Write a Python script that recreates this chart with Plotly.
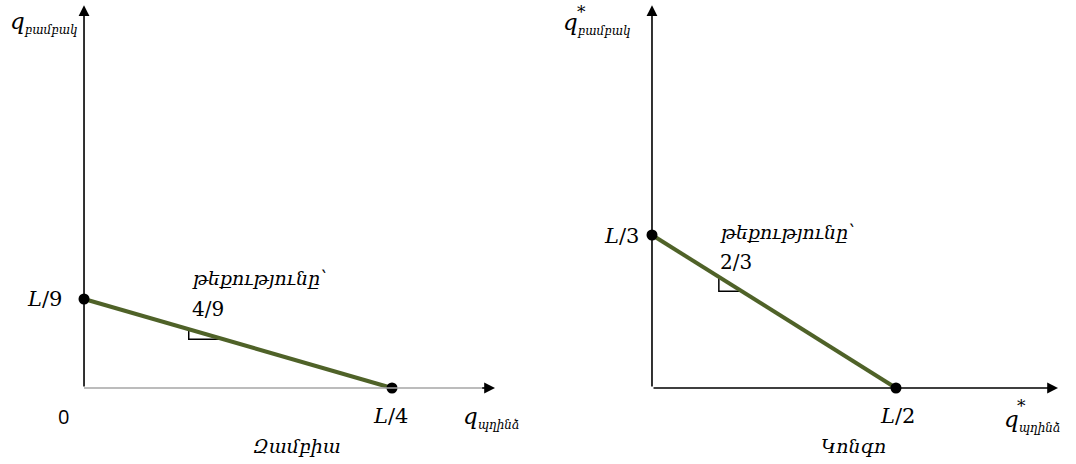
import plotly.graph_objects as go

W, H = 1076, 464

L = 1.0
# Zambia: cotton vs copper
zambia_x = [0, L / 4]
zambia_y = [L / 9, 0]
zambia_ticks = ["<i>L</i>/9", "<i>L</i>/4"]
zambia_slope = "4/9"
# Congo
congo_x = [0, L / 2]
congo_y = [L / 3, 0]
congo_ticks = ["<i>L</i>/3", "<i>L</i>/2"]
congo_slope = "2/3"

slope_word = "<i>թեքությունը՝</i>"
names = ["<i>Զամբիա</i>", "<i>Կոնգո</i>"]
cotton = "բամբակ"
copper = "պղինձ"

GREEN = "#4f6228"
SERIF = "DejaVu Serif"


def px(x):
    return x / W


def py(y):
    return 1 - y / H


def qlabel(sub):
    return ("<i>q</i><sub><span style='font-size:12px'><i>" + sub + "</i></span></sub>")


def right_angle(xs, ys, x0, y1):
    # small right-angle mark under the line: down from the line at x0, across to the line at y1
    k = (ys[0] - ys[1]) / (xs[1] - xs[0])
    ya = ys[0] - k * x0
    xb = (ys[0] - y1) / k
    return [x0, x0, xb], [ya, y1, y1]


fig = go.Figure()

rz = right_angle(zambia_x, zambia_y, 0.085, 0.061)
rc = right_angle(congo_x, congo_y, 0.137, 0.211)
fig.add_trace(go.Scatter(x=rz[0], y=rz[1], mode="lines", line=dict(color="black", width=1.5),
                         xaxis="x", yaxis="y", hoverinfo="skip"))
fig.add_trace(go.Scatter(x=rc[0], y=rc[1], mode="lines", line=dict(color="black", width=1.5),
                         xaxis="x2", yaxis="y2", hoverinfo="skip"))

# left axes: y black, x grey
fig.add_shape(type="line", x0=0, y0=0, x1=0.325, y1=0, xref="x", yref="y",
              line=dict(color="#a6a6a6", width=1.3))

fig.add_trace(go.Scatter(x=zambia_x, y=zambia_y, mode="lines+markers",
                         line=dict(color=GREEN, width=4),
                         marker=dict(color="black", size=11), xaxis="x", yaxis="y"))
fig.add_trace(go.Scatter(x=congo_x, y=congo_y, mode="lines+markers",
                         line=dict(color=GREEN, width=4),
                         marker=dict(color="black", size=11), xaxis="x2", yaxis="y2"))

arrows = [
    dict(x=0, y=0.478, ax=0, ay=0, xref="x", yref="y", axref="x", ayref="y"),
    dict(x=0.3336, y=0, ax=0.322, ay=0, xref="x", yref="y", axref="x", ayref="y"),
    dict(x=0, y=0.834, ax=0, ay=0, xref="x2", yref="y2", axref="x2", ayref="y2"),
    dict(x=0.832, y=0, ax=0, ay=0, xref="x2", yref="y2", axref="x2", ayref="y2"),
]
for a in arrows:
    fig.add_annotation(text="", showarrow=True, arrowhead=2, arrowsize=1.35,
                       arrowwidth=1.6, arrowcolor="black", standoff=0, startstandoff=0, **a)

notes = [
    # left panel
    dict(text=qlabel(cotton), x=px(8), y=py(22), xanchor="left", size=23),
    dict(text=zambia_ticks[0], x=px(64), y=py(299), xanchor="right", size=21),
    dict(text="0", x=px(63), y=py(416), xanchor="center", size=20, family="Open Sans"),
    dict(text=zambia_ticks[1], x=px(390), y=py(416), xanchor="center", size=21),
    dict(text=qlabel(copper), x=px(461), y=py(417), xanchor="left", size=23),
    dict(text=names[0], x=px(297), y=py(446), xanchor="center", size=19),
    dict(text=slope_word, x=px(190), y=py(278), xanchor="left", size=19),
    dict(text=zambia_slope, x=px(190), y=py(309), xanchor="left", size=20),
    # right panel
    dict(text=qlabel(cotton), x=px(561), y=py(24), xanchor="left", size=23),
    dict(text="*", x=px(581), y=py(12), xanchor="center", size=17),
    dict(text=congo_ticks[0], x=px(641), y=py(236), xanchor="right", size=21),
    dict(text=congo_ticks[1], x=px(897), y=py(416), xanchor="center", size=21),
    dict(text=qlabel(copper), x=px(1002), y=py(420), xanchor="left", size=23),
    dict(text="*", x=px(1021), y=py(406), xanchor="center", size=17),
    dict(text=names[1], x=px(853), y=py(446), xanchor="center", size=19),
    dict(text=slope_word, x=px(718), y=py(232), xanchor="left", size=19),
    dict(text=congo_slope, x=px(718), y=py(262), xanchor="left", size=20),
]
for n in notes:
    fig.add_annotation(text=n["text"], x=n["x"], y=n["y"], xref="paper", yref="paper",
                       xanchor=n["xanchor"], yanchor="middle", showarrow=False,
                       font=dict(family=n.get("family", SERIF), size=n["size"], color="black"))

hidden = dict(visible=False, fixedrange=True)
fig.update_layout(
    width=W, height=H, margin=dict(l=0, r=0, t=0, b=0),
    paper_bgcolor="white", plot_bgcolor="white", showlegend=False,
    xaxis=dict(domain=[0, 0.5], range=[-0.0682, 0.3685], **hidden),
    yaxis=dict(domain=[0, 1], range=[-0.0949, 0.4844], **hidden),
    xaxis2=dict(domain=[0.5, 1], range=[-0.2336, 0.8689], **hidden),
    yaxis2=dict(domain=[0, 1], range=[-0.1656, 0.8453], anchor="x2", **hidden),
)

fig.write_html("out.html", config={"displayModeBar": False},
               post_script="document.body.style.margin='0';")
